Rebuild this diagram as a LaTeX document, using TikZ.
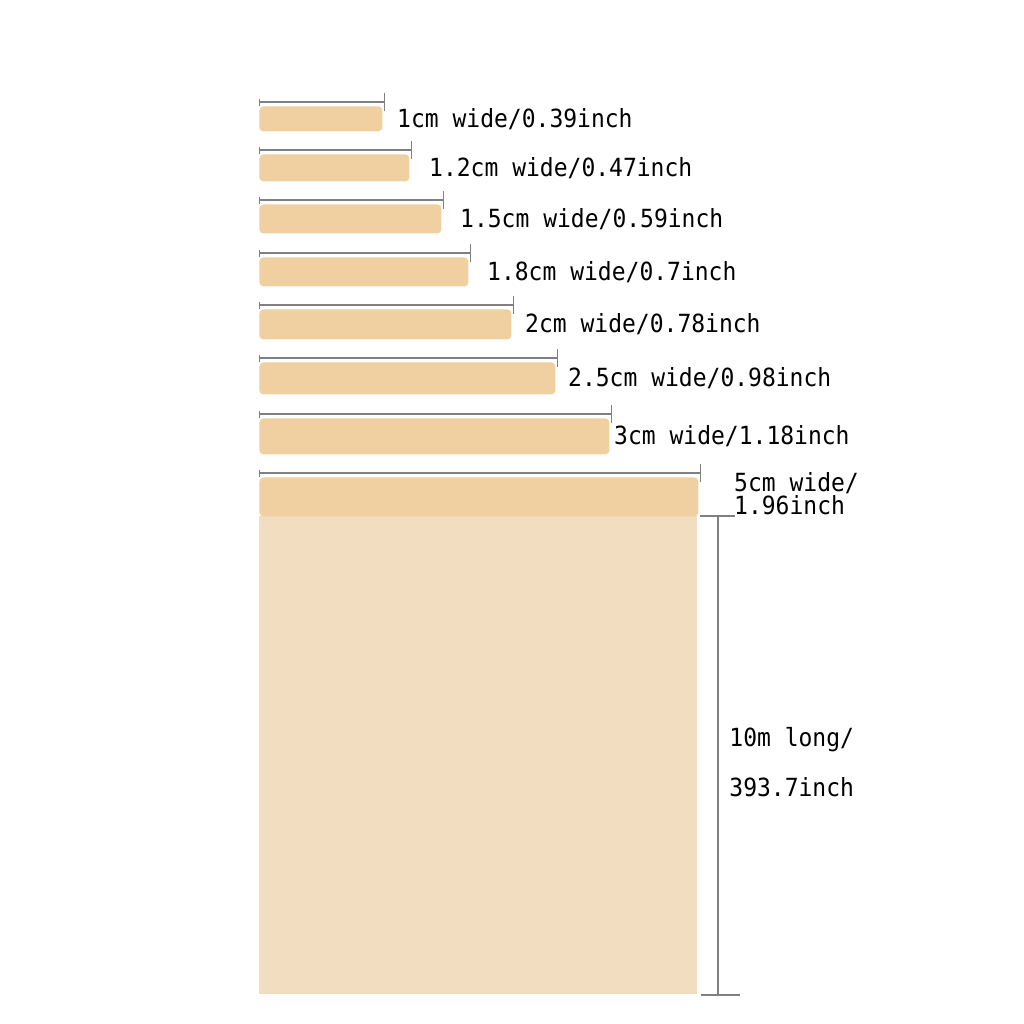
\documentclass[tikz,border=0pt]{standalone}
\usepackage{fontspec}
\usetikzlibrary{positioning,arrows.meta}
\newfontfamily\labelfont[FakeStretch=0.92]{DejaVu Sans Mono}
\definecolor{tapecolor}{RGB}{240,208,160}
\definecolor{rollcolor}{RGB}{242,221,193}
\definecolor{dimgray}{RGB}{128,128,128}
\begin{document}
\begin{tikzpicture}[x=0.5pt,y=-0.5pt]
				\tikzstyle{Bar} = [rectangle, anchor=north west, inner sep=0pt, rounded corners=2pt, fill=tapecolor]
				\tikzstyle{Label} = [anchor=west, inner sep=0pt, font=\labelfont\fontsize{12.5}{9}\selectfont, align=left]
				\tikzstyle{Dim} = [draw=dimgray, line width=0.6pt]
				\useasboundingbox (0,0) rectangle (1024,1024);
				% tape widths
				\node (bar1) at (259,106) [Bar, minimum width=61.5pt, minimum height=12.5pt] {};
				\node (bar2) at (259,154) [Bar, minimum width=75pt, minimum height=13.5pt] {};
				\node (bar3) at (259,204) [Bar, minimum width=91pt, minimum height=14.5pt] {};
				\node (bar4) at (259,257) [Bar, minimum width=104.5pt, minimum height=14.5pt] {};
				\node (bar5) at (259,309) [Bar, minimum width=126pt, minimum height=15pt] {};
				\node (bar6) at (259,362) [Bar, minimum width=148pt, minimum height=16pt] {};
				\node (bar7) at (259,418) [Bar, minimum width=175pt, minimum height=18pt] {};
				\node (roll) at (259,516) [Bar, rounded corners=0pt, fill=rollcolor, minimum width=219pt, minimum height=239pt] {};
				\node (bar8) at (259,477) [Bar, minimum width=219.5pt, minimum height=19.5pt] {};
				% labels
				\node (lab1) [Label, right=7pt of bar1] {1cm wide/0.39inch};
				\node (lab2) [Label, right=9.5pt of bar2] {1.2cm wide/0.47inch};
				\node (lab3) [Label, right=9pt of bar3] {1.5cm wide/0.59inch};
				\node (lab4) [Label, right=9pt of bar4] {1.8cm wide/0.7inch};
				\node (lab5) [Label, right=6.5pt of bar5] {2cm wide/0.78inch};
				\node (lab6) [Label, right=6pt of bar6] {2.5cm wide/0.98inch};
				\node (lab7) [Label, right=2pt of bar7] {3cm wide/1.18inch};
				\node (lab8) [Label, right=17.5pt of bar8, yshift=1.5pt] {5cm wide/\\1.96inch};
				% width marks
				\draw [Dim, {Bar[width=3.5pt]}-{Bar[width=9pt]}] ([yshift=2pt]bar1.north west) to ([xshift=1pt,yshift=2pt]bar1.north east);
				\draw [Dim, {Bar[width=3.5pt]}-{Bar[width=9pt]}] ([yshift=2pt]bar2.north west) to ([xshift=1pt,yshift=2pt]bar2.north east);
				\draw [Dim, {Bar[width=3.5pt]}-{Bar[width=9pt]}] ([yshift=2pt]bar3.north west) to ([xshift=1pt,yshift=2pt]bar3.north east);
				\draw [Dim, {Bar[width=3.5pt]}-{Bar[width=9pt]}] ([yshift=2pt]bar4.north west) to ([xshift=1pt,yshift=2pt]bar4.north east);
				\draw [Dim, {Bar[width=3.5pt]}-{Bar[width=9pt]}] ([yshift=2pt]bar5.north west) to ([xshift=1pt,yshift=2pt]bar5.north east);
				\draw [Dim, {Bar[width=3.5pt]}-{Bar[width=9pt]}] ([yshift=2pt]bar6.north west) to ([xshift=1pt,yshift=2pt]bar6.north east);
				\draw [Dim, {Bar[width=3.5pt]}-{Bar[width=9pt]}] ([yshift=2pt]bar7.north west) to ([xshift=1pt,yshift=2pt]bar7.north east);
				\draw [Dim, {Bar[width=3.5pt]}-{Bar[width=9pt]}] ([yshift=2pt]bar8.north west) to ([xshift=1pt,yshift=2pt]bar8.north east);
				% length mark
				\coordinate (top) at (718,516);
				\coordinate (bottom) at (718,995);
				\draw [Dim] ([xshift=1pt]roll.north east) to (735,516);
				\draw [Dim] (top) to (bottom);
				\draw [Dim] (701,995) to (740,995);
				\node (len1) at (729,740) [Label] {10m long/};
				\node (len2) at (729,787) [Label] {393.7inch};
			\end{tikzpicture}
\end{document}
